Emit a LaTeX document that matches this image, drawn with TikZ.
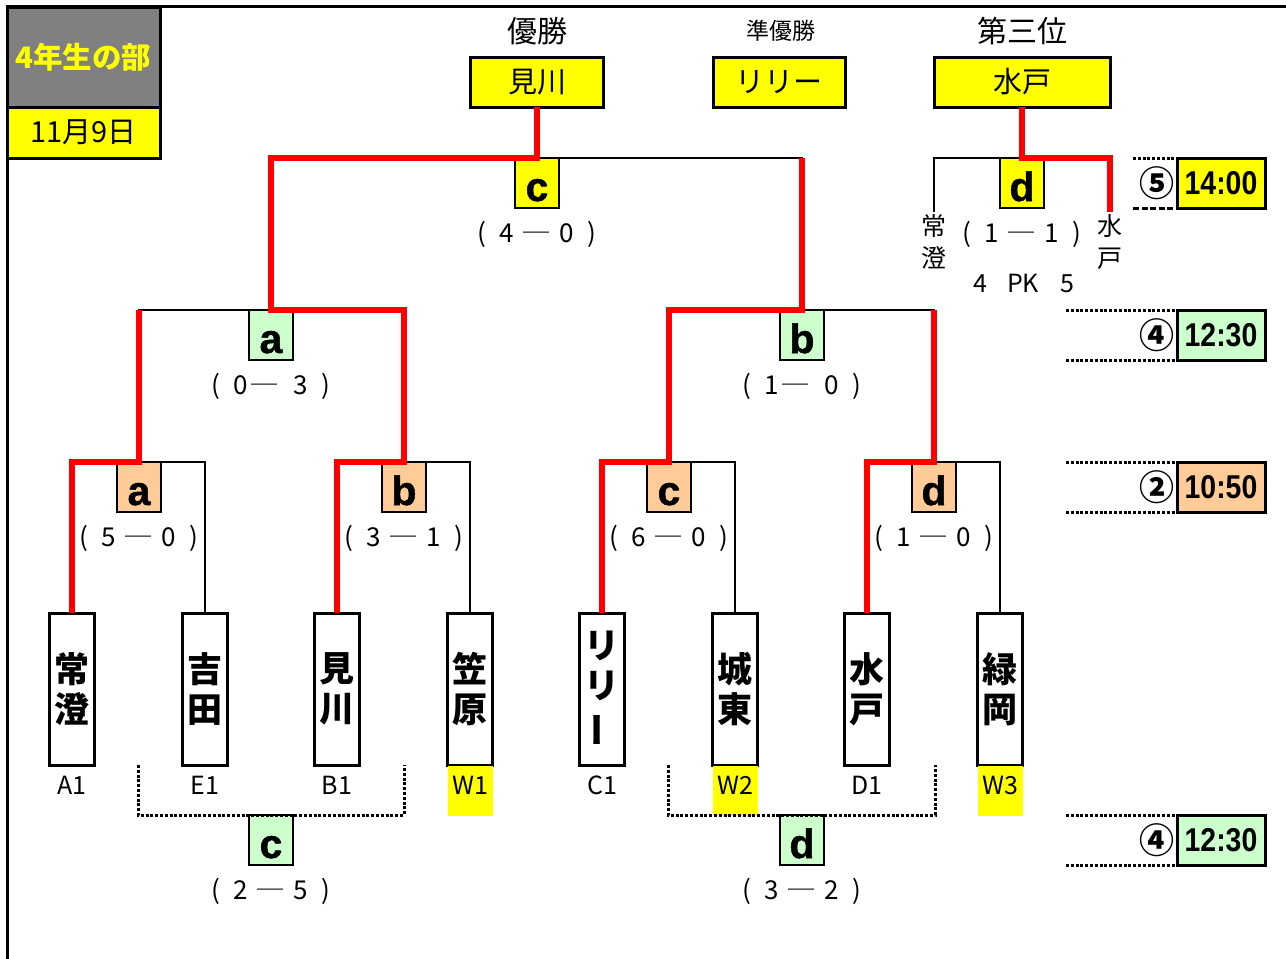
\documentclass[tikz,border=0pt]{standalone}
\usepackage{fontspec}
\setmainfont{Noto Sans CJK JP}
\newfontfamily\jp{Noto Sans CJK JP}
\newfontfamily\lat{Liberation Sans}
\newfontfamily\heavy[BoldFeatures={FakeBold=1.2}]{Liberation Sans}
\newfontfamily\timefont[FakeStretch=0.86]{Liberation Sans}
\definecolor{cyel}{HTML}{FFFF00}
\definecolor{cgrn}{HTML}{CCFFCC}
\definecolor{corg}{HTML}{FFCC99}
\definecolor{cgray}{HTML}{808080}
\definecolor{cred}{HTML}{FF0000}
\newcommand\fsz[2]{\fontsize{#1}{#2}\selectfont}
\newcommand\scr[2]{\makebox[26pt]{(}\makebox[24pt]{#1}\makebox[36pt]{─}\makebox[24pt]{#2}\makebox[26pt]{)}}
\newcommand\scrb[2]{\makebox[26pt]{(}\makebox[24pt]{#1}\makebox[36pt]{\hspace{-12pt}─}\makebox[24pt]{#2}\makebox[26pt]{)}}
\begin{document}
\begin{tikzpicture}[x=1pt,y=-1pt,
  every node/.style={outer sep=0pt},
  blk/.style={line width=2.5pt, black},
  rl/.style={line width=6pt, cred},
  dl/.style={line width=3pt, dash pattern=on 3pt off 1.8pt},
  mbox/.style={draw, line width=2.5pt, minimum width=44pt, minimum height=50pt, inner sep=0pt, anchor=north, text height=36pt, text depth=0pt, font=\heavy\bfseries\fsz{41}{41}},
  team/.style={draw, line width=3pt, minimum width=45pt, minimum height=152pt, inner sep=0pt, anchor=north, align=center, font=\jp\bfseries\fsz{35}{40}},
  top/.style={draw, line width=3pt, fill=cyel, minimum height=50pt, inner sep=0pt, anchor=north, font=\jp\fsz{29}{29}},
  score/.style={font=\jp\fsz{26}{26}, inner sep=0pt},
  code/.style={font=\jp\fsz{25}{25}, inner sep=0pt},
  tbox/.style={draw, line width=3pt, minimum width=88pt, minimum height=50pt, inner sep=0pt, anchor=north, font=\timefont\bfseries\fsz{33}{33}},
  circ/.style={font=\jp\bfseries\fsz{35}{35}, inner sep=0pt},
]
\useasboundingbox (0,0) rectangle (1286,959);
% frame
\coordinate (fa) at (7,959);
\coordinate (fb) at (7,6);
\coordinate (fc) at (1286,6);
\draw[line width=3pt] (fa) -- (fb) -- (fc);
% header
\node[draw, line width=3pt, fill=cgray, minimum width=153pt, minimum height=100pt, inner sep=0pt, anchor=north west, text=cyel, font=\jp\bfseries\fsz{29.5}{29.5}] (hd) at (7,7) {4年生の部};
\node[draw, line width=3pt, fill=cyel, minimum width=153pt, minimum height=51pt, inner sep=0pt, anchor=north west, font=\jp\fsz{29}{29}] (dt) at (7,107) {11月9日};
% top labels
\node[font=\jp\fsz{30}{30}, inner sep=0pt] (l1) at (537,31) {優勝};
\node[font=\jp\fsz{23}{23}, inner sep=0pt] (l2) at (781,31) {準優勝};
\node[font=\jp\fsz{30}{30}, inner sep=0pt] (l3) at (1022,31) {第三位};
\node[top, minimum width=133pt] (champ) at (537,57) {見川};
\node[top, minimum width=132pt] (second) at (779,57) {リリー};
\node[top, minimum width=176pt] (third) at (1022,57) {水戸};
% teams
\node[team] (T1) at (72,613) {常\\澄};
\node[team] (T2) at (205,613) {吉\\田};
\node[team] (T3) at (337,613) {見\\川};
\node[team] (T4) at (470,613) {笠\\原};
\node[team] (T5) at (602,613) {リ\\リ\\\rotatebox[origin=c]{90}{ー}};
\node[team] (T6) at (735,613) {城\\東};
\node[team] (T7) at (867,613) {水\\戸};
\node[team] (T8) at (1000,613) {緑\\岡};
% codes
\node[fill=cyel, minimum width=45pt, minimum height=50pt, inner sep=0pt, anchor=north] (w1bg) at (470,766) {};
\node[fill=cyel, minimum width=45pt, minimum height=50pt, inner sep=0pt, anchor=north] (w2bg) at (735,766) {};
\node[fill=cyel, minimum width=45pt, minimum height=50pt, inner sep=0pt, anchor=north] (w3bg) at (1000,766) {};
\node[code] (c1) at (72,785) {A1};
\node[code] (c2) at (205,785) {E1};
\node[code] (c3) at (337,785) {B1};
\node[code] (c4) at (470,785) {W1};
\node[code] (c5) at (602,785) {C1};
\node[code] (c6) at (735,785) {W2};
\node[code] (c7) at (867,785) {D1};
\node[code] (c8) at (1000,785) {W3};
% match boxes
\node[mbox, fill=corg] (QA) at (139,462) {a};
\node[mbox, fill=corg] (QB) at (404,462) {b};
\node[mbox, fill=corg] (QC) at (669,462) {c};
\node[mbox, fill=corg] (QD) at (934,462) {d};
\node[mbox, fill=cgrn] (SA) at (271,310) {a};
\node[mbox, fill=cgrn] (SB) at (802,310) {b};
\node[mbox, fill=cyel] (F) at (537,158) {c};
\node[mbox, fill=cyel] (TP) at (1022,158) {d};
\node[mbox, fill=cgrn] (CC) at (271,815) {c};
\node[mbox, fill=cgrn] (CD) at (802,815) {d};
% scores
\node[score] (sF) at (537,234) {\scr{4}{0}};
\node[score] (sSA) at (271,386) {\scrb{0}{3}};
\node[score] (sSB) at (802,386) {\scrb{1}{0}};
\node[score] (sQA) at (139,538) {\scr{5}{0}};
\node[score] (sQB) at (404,538) {\scr{3}{1}};
\node[score] (sQC) at (669,538) {\scr{6}{0}};
\node[score] (sQD) at (934,538) {\scr{1}{0}};
\node[score] (sCC) at (271,891) {\scr{2}{5}};
\node[score] (sCD) at (802,891) {\scr{3}{2}};
\node[score] (sTP) at (1022,234) {\scr{1}{1}};
\node[font=\jp\fsz{25}{25}, inner sep=0pt] (pk) at (1024,283) {4\hspace{20pt}PK\hspace{22pt}5};
\node[font=\jp\fsz{25}{32}, align=center, inner sep=0pt] (tl) at (934,242) {常\\澄};
\node[font=\jp\fsz{25}{32}, align=center, inner sep=0pt] (tr) at (1110,242) {水\\戸};
% black brackets
\coordinate (tpL) at (934,212);
\coordinate (tpR) at (1110,212);
\draw[blk] (SA.north) |- (F.north) -| (SB.north);
\draw[blk] (QA.north) |- (SA.north) -| (QB.north);
\draw[blk] (QC.north) |- (SB.north) -| (QD.north);
\draw[blk] (T1.north) |- (QA.north) -| (T2.north);
\draw[blk] (T3.north) |- (QB.north) -| (T4.north);
\draw[blk] (T5.north) |- (QC.north) -| (T6.north);
\draw[blk] (T7.north) |- (QD.north) -| (T8.north);
\draw[blk] (tpL) |- (TP.north) -| (tpR);
% red paths
\draw[rl] (T3.north) |- (QB.north) |- (SA.north) |- (F.north) -- (champ.south);
\draw[rl] (T1.north) |- (QA.north) -- (QA.north |- SA.north);
\draw[rl] (T5.north) |- (QC.north) |- (SB.north) -- (SB.north |- F.north);
\draw[rl] (T7.north) |- (QD.north) -- (QD.north |- SB.north);
\draw[rl] (third.south) -- (TP.north) -| (tpR);
% consolation dotted brackets
\coordinate (cl) at (138,765);
\coordinate (cr) at (404,765);
\coordinate (dl1) at (668,765);
\coordinate (dr1) at (935,765);
\draw[dl] (cl) |- (CC.north) -| (cr);
\draw[dl] (dl1) |- (CD.north) -| (dr1);
% time rows
\node[tbox, fill=cyel] (t1) at (1221,158) {14:00};
\node[tbox, fill=cgrn] (t2) at (1221,310) {12:30};
\node[tbox, fill=corg] (t3) at (1221,462) {10:50};
\node[tbox, fill=cgrn] (t4) at (1221,815) {12:30};
\node[circ] (n1) at (1157,183) {⑤};
\node[circ] (n2) at (1157,335) {④};
\node[circ] (n3) at (1157,487) {②};
\node[circ] (n4) at (1157,840) {④};
\coordinate (a1) at (1133,158);
\coordinate (b1) at (1133,208);
\coordinate (a2) at (1066,310);
\coordinate (b2) at (1066,360);
\coordinate (a3) at (1066,462);
\coordinate (b3) at (1066,512);
\coordinate (a4) at (1066,815);
\coordinate (b4) at (1066,865);
\draw[dl] (a1) -- (a1 -| t1.west);
\draw[line width=3pt, dash pattern=on 6pt off 2.5pt] (b1) -- (b1 -| t1.west);
\draw[dl] (a2) -- (a2 -| t2.west);
\draw[dl] (b2) -- (b2 -| t2.west);
\draw[dl] (a3) -- (a3 -| t3.west);
\draw[dl] (b3) -- (b3 -| t3.west);
\draw[dl] (a4) -- (a4 -| t4.west);
\draw[dl] (b4) -- (b4 -| t4.west);
\end{tikzpicture}
\end{document}
